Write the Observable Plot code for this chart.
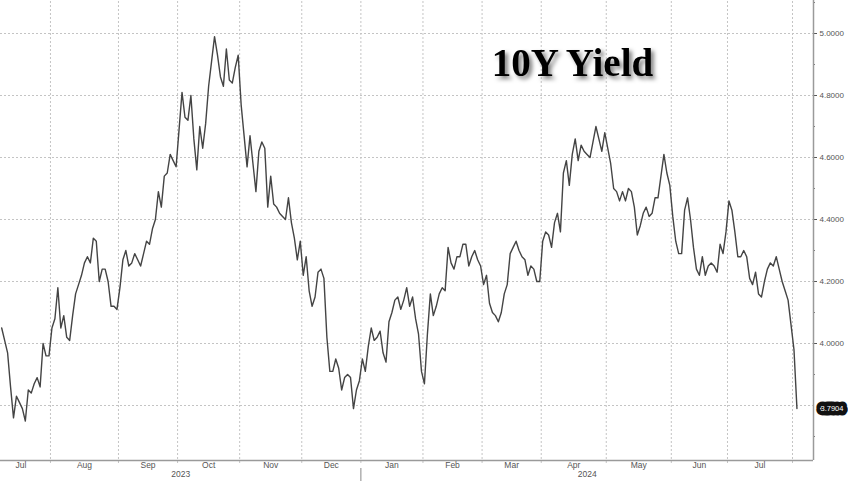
<!DOCTYPE html>
<html><head><meta charset="utf-8">
<script src="https://cdn.jsdelivr.net/npm/d3@7"></script>
<script src="https://cdn.jsdelivr.net/npm/@observablehq/plot@0.6"></script>
<style>html,body{margin:0;padding:0;background:#fff;overflow:hidden}</style>
</head><body><div id="chart"></div>
<script>
// US 10Y Treasury yield, one value per trading day (Jul 7 2023 – Aug 2 2024)
const jul2023 = [4.05, 4.01, 3.97, 3.86, 3.76, 3.83, 3.81, 3.79, 3.75, 3.85, 3.84, 3.87, 3.89, 3.86, 4.00, 3.96, 3.96];
const aug2023 = [4.05, 4.08, 4.18, 4.05, 4.09, 4.02, 4.01, 4.09, 4.16, 4.19, 4.22, 4.26, 4.28, 4.26, 4.34, 4.33, 4.20, 4.24, 4.24, 4.20, 4.12, 4.12, 4.11];
const sep2023 = [4.18, 4.27, 4.30, 4.25, 4.26, 4.29, 4.27, 4.25, 4.29, 4.33, 4.32, 4.37, 4.40, 4.49, 4.44, 4.54, 4.55, 4.61, 4.59, 4.57];
const oct2023 = [4.69, 4.81, 4.73, 4.72, 4.80, 4.66, 4.56, 4.70, 4.63, 4.71, 4.83, 4.91, 4.99, 4.93, 4.86, 4.83, 4.95, 4.85, 4.84, 4.89, 4.93];
const nov2023 = [4.77, 4.67, 4.57, 4.67, 4.58, 4.49, 4.62, 4.65, 4.63, 4.44, 4.54, 4.45, 4.44, 4.42, 4.41, 4.40, 4.47, 4.39, 4.34, 4.27, 4.33];
const dec2023 = [4.22, 4.28, 4.17, 4.12, 4.15, 4.23, 4.24, 4.21, 4.02, 3.91, 3.91, 3.95, 3.92, 3.85, 3.89, 3.90, 3.89, 3.79, 3.85, 3.88];
const jan2024 = [3.95, 3.91, 3.99, 4.05, 4.01, 4.02, 4.04, 3.97, 3.94, 4.07, 4.10, 4.14, 4.15, 4.11, 4.14, 4.18, 4.12, 4.15, 4.08, 4.03, 3.91];
const feb2024 = [3.87, 4.03, 4.16, 4.09, 4.12, 4.16, 4.18, 4.17, 4.31, 4.26, 4.24, 4.28, 4.28, 4.32, 4.32, 4.25, 4.28, 4.30, 4.27, 4.25];
const mar2024 = [4.19, 4.22, 4.13, 4.10, 4.09, 4.07, 4.10, 4.16, 4.19, 4.29, 4.31, 4.33, 4.30, 4.28, 4.27, 4.22, 4.25, 4.24, 4.20, 4.20];
const apr2024 = [4.33, 4.36, 4.35, 4.31, 4.39, 4.42, 4.36, 4.55, 4.59, 4.51, 4.61, 4.66, 4.59, 4.64, 4.62, 4.61, 4.60, 4.65, 4.70, 4.66, 4.62, 4.68];
const may2024 = [4.63, 4.58, 4.50, 4.49, 4.46, 4.49, 4.46, 4.50, 4.49, 4.44, 4.35, 4.38, 4.42, 4.44, 4.41, 4.42, 4.47, 4.47, 4.54, 4.61, 4.55, 4.51];
const jun2024 = [4.41, 4.33, 4.29, 4.29, 4.43, 4.47, 4.40, 4.31, 4.24, 4.22, 4.28, 4.22, 4.25, 4.26, 4.25, 4.23, 4.32, 4.29, 4.36];
const jul2024 = [4.46, 4.43, 4.36, 4.28, 4.28, 4.30, 4.28, 4.21, 4.19, 4.23, 4.16, 4.15, 4.20, 4.24, 4.26, 4.25, 4.28, 4.24, 4.20, 4.17, 4.14, 4.06];
const aug2024 = [3.98, 3.7904];

// x axis: months (trading days per month; July 2023 data begins on its 4th trading day)
const monthLabels = ["Jul", "Aug", "Sep", "Oct", "Nov", "Dec", "Jan", "Feb", "Mar", "Apr", "May", "Jun", "Jul", "Aug"];
const monthTradingDays = [20, 23, 20, 21, 21, 20, 21, 20, 20, 22, 22, 19, 22, 2];
const firstDayOffset = 3;
const labeledMonths = 13;
const yearLabels = ["2023", "2024"];
const yearFirstMonth = [0, 6];

// y axis
const yGridValues = [3.8, 4.0, 4.2, 4.4, 4.6, 4.8, 5.0];
const yLabelValues = [4.0, 4.2, 4.4, 4.6, 4.8, 5.0];
const yMinorValues = [3.7, 3.9, 4.1, 4.3, 4.5, 4.7, 4.9, 5.1];
const xDomain = [-0.4, 274.6];
const yDomain = [3.6226, 5.1065];
const titleText = "10Y Yield";
const lastLabelFormat = ".4f";

// ---- build tables ----
const values = [].concat(jul2023, aug2023, sep2023, oct2023, nov2023, dec2023, jan2024, feb2024, mar2024, apr2024, may2024, jun2024, jul2024, aug2024);
const rows = values.map((v, i) => ({i, v}));
const last = rows[rows.length - 1];

const monthStarts = [];
let acc = -firstDayOffset;
for (const n of monthTradingDays) { monthStarts.push(acc); acc += n; }
const monthEnds = monthStarts.map((s, k) => s + monthTradingDays[k]);
const boundaries = monthStarts.slice(1).map(s => s - 0.5);
const monthRows = monthLabels.slice(0, labeledMonths).map((m, k) => ({label: m, x: (monthStarts[k] + monthEnds[k]) / 2 - 0.5}));
const yearBoundaries = yearFirstMonth.slice(1).map(k => monthStarts[k] - 0.5);
const yearEdges = [xDomain[0], ...yearBoundaries, xDomain[1]];
const yearRows = yearLabels.map((y, k) => ({label: y, x: (yearEdges[k] + yearEdges[k + 1]) / 2}));

const H = 481, W = 848, mB = 21, mR = 35;
const yPx = (yDomain[1] - yDomain[0]) / (H - mB);
const xPx = (xDomain[1] - xDomain[0]) / (W - mR);

const svg = Plot.plot({
  width: W, height: H,
  marginLeft: 0, marginTop: 0, marginRight: mR, marginBottom: mB,
  style: {fontFamily: "'Liberation Sans', Arial, sans-serif", fontSize: "8px", color: "#555", background: "#fff"},
  x: {domain: xDomain, axis: null},
  y: {domain: yDomain, axis: "right", ticks: yLabelValues, tickFormat: d3.format(".4f"), tickSize: 3, tickPadding: 3, label: null},
  marks: [
    Plot.ruleY(yGridValues, {stroke: "#c4c4c4", strokeWidth: 1, strokeDasharray: "2,2"}),
    Plot.ruleX(boundaries, {stroke: "#c4c4c4", strokeWidth: 1, strokeDasharray: "2,2", y1: yDomain[0] - 3 * yPx, y2: yDomain[1]}),
    Plot.ruleY(yMinorValues, {x1: xDomain[1], x2: xDomain[1] + 2 * xPx, stroke: "#777"}),
    Plot.ruleY([yDomain[0]], {stroke: "#9a9a9a", strokeWidth: 1.5}),
    Plot.ruleX([xDomain[1]], {stroke: "#9a9a9a", strokeWidth: 1.5}),
    Plot.ruleX(yearBoundaries, {y1: yDomain[0] - 8 * yPx, y2: yDomain[0] - 21 * yPx, stroke: "#888"}),
    Plot.line(rows, {x: "i", y: "v", stroke: "#444", strokeWidth: 1.4, strokeLinejoin: "round"}),
    Plot.text(monthRows, {x: "x", text: "label", frameAnchor: "bottom", dy: 7, fill: "#555", fontSize: 8.5}),
    Plot.text(yearRows, {x: "x", text: "label", frameAnchor: "bottom", dy: 16, fill: "#555", fontSize: 8.5}),
    Plot.text([last], {x: () => xDomain[1], y: "v", text: d => d3.format(lastLabelFormat)(d.v), textAnchor: "start", dx: 7, fill: "#fff", stroke: "#111", strokeWidth: 9, strokeLinejoin: "round", fontSize: 7.5}),
    Plot.text([titleText], {frameAnchor: "top-left", dx: 572, dy: 63, textAnchor: "middle", lineAnchor: "middle", fontFamily: "'Liberation Serif', 'Times New Roman', serif", fontWeight: "bold", fontSize: 39, fill: "#000"})
  ]
});

const s = d3.select(svg);
const f = s.insert("defs", ":first-child").append("filter").attr("id", "tshadow").attr("x", "-10%").attr("y", "-30%").attr("width", "130%").attr("height", "180%");
f.append("feDropShadow").attr("dx", 3).attr("dy", 3).attr("stdDeviation", 2).attr("flood-color", "#000").attr("flood-opacity", 0.5);
s.selectAll("text").filter(function () { return this.textContent === titleText; }).attr("filter", "url(#tshadow)");

document.getElementById("chart").appendChild(svg);
</script>
</body></html>
